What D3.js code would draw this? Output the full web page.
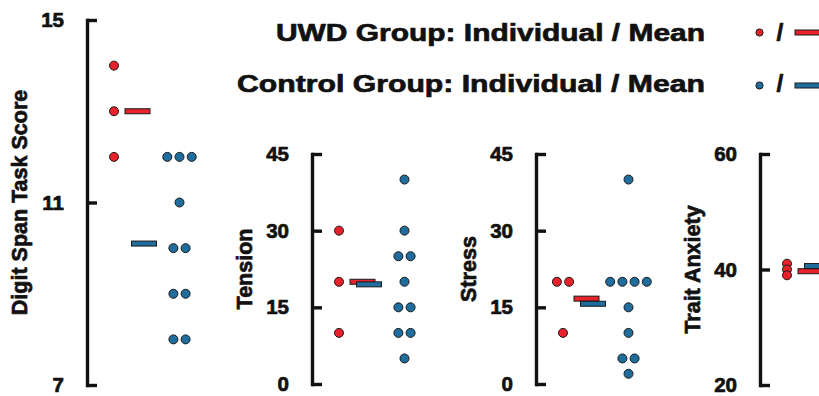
<!DOCTYPE html>
<html>
<head>
<meta charset="utf-8">
<script src="https://cdn.jsdelivr.net/npm/d3@7"></script>
<style>
  html, body { margin: 0; padding: 0; background: #fff; }
  svg { display: block; font-family: "Liberation Sans", Arial, sans-serif; }
  .heavy { stroke: #111; stroke-width: 0.7px; paint-order: stroke; stroke-linejoin: round; }
</style>
</head>
<body>
<svg id="chart" width="819" height="396"></svg>
<script>
// ---- Data ----
const groups = ["UWD", "Control"];
const groupColors = ["#e8222b", "#1f6d9d"];

const panelTitles = ["Digit Span Task Score", "Tension", "Stress", "Trait Anxiety"];

const digitUWD = [14, 13, 12];
const digitControl = [12, 12, 12, 11, 10, 10, 9, 9, 8, 8];
const digitMeans = [13, 10.1];
const digitTicks = [7, 11, 15];

const tensionUWD = [30, 20, 10];
const tensionControl = [40, 30, 25, 25, 20, 15, 15, 10, 10, 5];
const tensionMeans = [20, 19.5];
const tensionTicks = [0, 15, 30, 45];

const stressUWD = [20, 20, 10];
const stressControl = [40, 20, 20, 20, 20, 15, 10, 5, 5, 2];
const stressMeans = [16.7, 15.7];
const stressTicks = [0, 15, 30, 45];

const traitUWD = [41, 40, 39];
const traitControl = [];          // cut off at the right edge of the figure
const traitMeans = [39.7, 40.6];
const traitTicks = [20, 40, 60];

const legendLabels = ["UWD Group: Individual / Mean", "Control Group: Individual / Mean"];

// ---- Layout ----
const panels = [
  { title: panelTitles[0], values: [digitUWD, digitControl], means: digitMeans, ticks: digitTicks, axisX: 87,  yRange: [385, 20] },
  { title: panelTitles[1], values: [tensionUWD, tensionControl], means: tensionMeans, ticks: tensionTicks, axisX: 312, yRange: [384, 154] },
  { title: panelTitles[2], values: [stressUWD, stressControl], means: stressMeans, ticks: stressTicks, axisX: 536, yRange: [384, 154] },
  { title: panelTitles[3], values: [traitUWD, traitControl], means: traitMeans, ticks: traitTicks, axisX: 760, yRange: [385, 154] }
];

const svg = d3.select("#chart");
const dotR = 4.5, dotGap = 12.2;
const meanW = 25, meanH = 5;

panels.forEach(p => {
  const y = d3.scaleLinear()
    .domain([p.ticks[0], p.ticks[p.ticks.length - 1]])
    .range(p.yRange);
  const x = d3.scalePoint()
    .domain(groups)
    .range([p.axisX + 27, p.axisX + 92.5]);

  const g = svg.append("g");

  // axis
  const axis = d3.axisLeft(y)
    .tickValues(p.ticks)
    .tickFormat(d3.format("d"))
    .tickSizeInner(-10)
    .tickSizeOuter(0)
    .tickPadding(23);
  const ax = g.append("g")
    .attr("transform", `translate(${p.axisX},0)`)
    .call(axis);
  ax.select(".domain").attr("stroke", "#111").attr("stroke-width", 3.4).attr("stroke-linecap", "square");
  ax.selectAll(".tick line").attr("stroke", "#111").attr("stroke-width", 3.4);
  ax.selectAll(".tick text")
    .attr("class", "heavy")
    .attr("fill", "#111")
    .style("font-size", "20.5px")
    .style("font-weight", "bold")
    .style("font-family", "'Liberation Sans', Arial, sans-serif");

  // y-axis title
  const midY = (p.yRange[0] + p.yRange[1]) / 2;
  g.append("text")
    .attr("class", "heavy")
    .attr("transform", `translate(${p.axisX - 60},${midY}) rotate(-90)`)
    .attr("text-anchor", "middle")
    .attr("fill", "#111")
    .style("font-size", "21.5px")
    .style("font-weight", "bold")
    .text(p.title);

  // mean bars (UWD first, Control on top)
  groups.forEach((grp, gi) => {
    g.append("rect")
      .attr("x", x(groups[0]) + 11 + gi * 6.5)
      .attr("y", y(p.means[gi]) - meanH / 2)
      .attr("width", meanW)
      .attr("height", meanH)
      .attr("fill", groupColors[gi])
      .attr("stroke", "#1a1a1a")
      .attr("stroke-width", 1);
  });

  // individual dots, spread horizontally when values tie
  groups.forEach((grp, gi) => {
    const vals = p.values[gi];
    const counts = d3.rollup(vals, v => v.length, d => d);
    const seen = new Map();
    const pts = vals.map(v => {
      const k = counts.get(v);
      const i = seen.get(v) || 0;
      seen.set(v, i + 1);
      return { v, cx: x(grp) + (i - (k - 1) / 2) * dotGap };
    });
    g.selectAll(null).data(pts).enter().append("circle")
      .attr("cx", d => d.cx)
      .attr("cy", d => y(d.v))
      .attr("r", dotR)
      .attr("fill", groupColors[gi])
      .attr("stroke", "#1a1a1a")
      .attr("stroke-width", 1);
  });
});

// ---- Legend ----
const legend = svg.append("g");
const legendRows = [
  { x: 276, len: 429, base: 41, cy: 32.5 },
  { x: 237, len: 468, base: 91.5, cy: 85.5 }
];
legendLabels.forEach((lab, i) => {
  const r = legendRows[i];
  legend.append("text")
    .attr("class", "heavy")
    .attr("x", r.x)
    .attr("y", r.base)
    .attr("textLength", r.len)
    .attr("lengthAdjust", "spacingAndGlyphs")
    .attr("fill", "#111")
    .style("font-size", "24.5px")
    .style("font-weight", "bold")
    .text(lab);
  legend.append("circle")
    .attr("cx", 759.5).attr("cy", r.cy).attr("r", 3.6)
    .attr("fill", groupColors[i]).attr("stroke", "#1a1a1a").attr("stroke-width", 1);
  legend.append("text")
    .attr("class", "heavy")
    .attr("x", 780).attr("y", r.base)
    .attr("text-anchor", "middle")
    .attr("fill", "#111")
    .style("font-size", "24.5px")
    .style("font-weight", "bold")
    .text("/");
  legend.append("rect")
    .attr("x", 795).attr("y", r.cy - 2.5)
    .attr("width", 40).attr("height", 5)
    .attr("fill", groupColors[i]).attr("stroke", "#1a1a1a").attr("stroke-width", 1);
});
</script>
</body>
</html>
